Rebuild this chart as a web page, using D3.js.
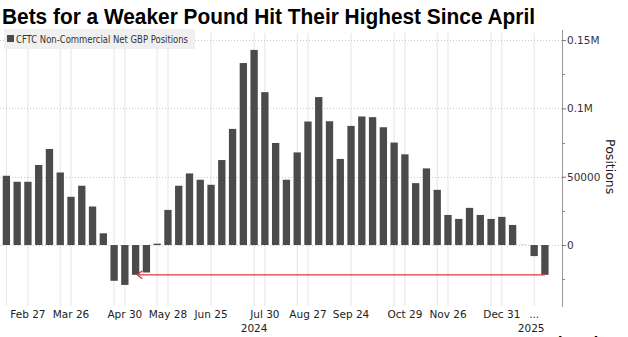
<!DOCTYPE html>
<html><head><meta charset="utf-8">
<script src="https://cdn.jsdelivr.net/npm/d3@7/dist/d3.min.js"></script>
<style>
html,body{margin:0;padding:0;background:#fff;}
svg{display:block;}
text{font-family:"DejaVu Sans",sans-serif;}
</style></head>
<body>
<script>
// ---- data ----
const title = "Bets for a Weaker Pound Hit Their Highest Since April";
const seriesName = "CFTC Non-Commercial Net GBP Positions";
const weeks = d3.range(51).map(i => d3.timeWeek.offset(new Date(2024, 1, 13), i));
const positions = [50700, 46300, 46300, 58600, 70300, 53100, 35300, 43400, 28200, 8600,
  -26200, -29200, -21800, -20100, 1000, 25700, 43400, 52400, 47800, 44100,
  62200, 85000, 133200, 142800, 111900, 74700, 47800, 67800, 90400, 108300,
  90600, 63000, 87200, 94100, 93600, 86200, 75000, 66400, 45300, 56100,
  40400, 22000, 19100, 27200, 22000, 19100, 20600, 14700, 500, -8100, -21800];
const tickIdx = [2, 6, 11, 15, 19, 24, 28, 32, 37, 41, 46, 49];
const tickLabels = ["Feb 27", "Mar 26", "Apr 30", "May 28", "Jun 25", "Jul 30", "Aug 27", "Sep 24", "Oct 29", "Nov 26", "Dec 31", "..."];
const extraGridIdx = [0, 5, 10, 14, 23, 27, 36, 40, 45];
const yearIdx = [23, 49];
const yearLabels = ["2024", "2025"];
const yTicks = [0, 50000, 100000, 150000];
const yTickLabels = ["0", "50000", "0.1M", "0.15M"];
const yMinorTicks = [-25000, 25000, 75000, 125000];
const yDomain = [-43900, 155200];
const axisTitle = "Positions";
const arrowFrom = 50, arrowTo = 12;

// ---- chart ----
const W = 628, H = 337;
const svg = d3.select("body").append("svg").attr("width", W).attr("height", H);

const x = d3.scaleBand().domain(d3.range(positions.length)).range([1, 550.3]).paddingInner(0.32).paddingOuter(0.16);
const y = d3.scaleLinear().domain(yDomain).range([305, 33]);
const axisX = 562;

// vertical gridlines
const vgrid = tickIdx.concat(extraGridIdx);
svg.append("g").selectAll("line").data(vgrid).join("line")
  .attr("x1", d => x(d) + x.bandwidth() / 2).attr("x2", d => x(d) + x.bandwidth() / 2)
  .attr("y1", y.range()[1]).attr("y2", y.range()[0] + 1)
  .attr("stroke", "#e4e4e4").attr("stroke-width", 1);

// horizontal gridlines
svg.append("g").selectAll("line").data(yTicks).join("line")
  .attr("x1", 0).attr("x2", axisX)
  .attr("y1", d => Math.round(y(d)) + 0.5).attr("y2", d => Math.round(y(d)) + 0.5)
  .attr("stroke", "#c8c8c8").attr("stroke-dasharray", "1,2");

// bars
svg.append("g").selectAll("rect").data(positions).join("rect")
  .attr("x", (d, i) => x(i)).attr("width", x.bandwidth())
  .attr("y", d => y(Math.max(0, d))).attr("height", d => Math.abs(y(d) - y(0)))
  .attr("fill", d => Math.abs(d) < 800 ? "#d8d8d8" : "#4b4b4b");

// right axis
const yAxis = d3.axisRight(y).tickValues(yTicks).tickSize(4)
  .tickFormat((d, i) => yTickLabels[i]);
const ga = svg.append("g").attr("transform", `translate(${axisX},0)`).call(yAxis);
ga.select(".domain").attr("d", `M0.5,${y.range()[1] - 3}V${y.range()[0] + 2}`).attr("stroke", "#999");
ga.selectAll(".tick line").attr("stroke", "#777").attr("x1", 0).attr("x2", 4);
ga.selectAll(".tick text").attr("x", 5).attr("fill", "#333").style("font-size", "10.5px").style("font-family", "DejaVu Sans");
svg.append("g").selectAll("line").data(yMinorTicks).join("line")
  .attr("x1", axisX).attr("x2", axisX + 3)
  .attr("y1", d => Math.round(y(d)) + 0.5).attr("y2", d => Math.round(y(d)) + 0.5)
  .attr("stroke", "#888");

svg.append("text").attr("transform", `translate(606,${y(50000) - 10}) rotate(90)`)
  .attr("text-anchor", "middle").attr("fill", "#222").style("font-size", "12.5px").text(axisTitle);

// x labels
svg.append("g").selectAll("text").data(tickIdx).join("text")
  .attr("x", d => x(d) + x.bandwidth() / 2).attr("y", 318)
  .attr("text-anchor", "middle").attr("fill", "#222").style("font-size", "10.5px")
  .text((d, i) => tickLabels[i]);
svg.append("g").selectAll("text").data(yearIdx).join("text")
  .attr("x", (d, i) => x(d) + x.bandwidth() / 2 - (i ? 3 : 0)).attr("y", 332)
  .attr("text-anchor", "middle").attr("fill", "#222").style("font-size", "10.5px")
  .text((d, i) => yearLabels[i]);

// arrow
const ay = y(positions[arrowFrom]);
const ax0 = x(arrowFrom) + x.bandwidth() / 2;
const ax1 = x(arrowTo) + x.bandwidth() - 2;
svg.append("line").attr("x1", ax0).attr("x2", ax1).attr("y1", ay).attr("y2", ay)
  .attr("stroke", "#e0393b").attr("stroke-width", 1.3);
svg.append("path").attr("d", `M${ax1 + 5},${ay - 4}L${ax1},${ay}L${ax1 + 5},${ay + 4}`)
  .attr("fill", "none").attr("stroke", "#e0393b").attr("stroke-width", 1.3);

// legend
svg.append("rect").attr("x", 4).attr("y", 29).attr("width", 191).attr("height", 20).attr("fill", "#f0f0f0");
svg.append("rect").attr("x", 7).attr("y", 35).attr("width", 7).attr("height", 7).attr("fill", "#4b4b4b");
svg.append("text").attr("x", 16).attr("y", 42.5).attr("fill", "#333").style("font-size", "10px")
  .attr("textLength", 172).attr("lengthAdjust", "spacingAndGlyphs").text(seriesName);

// title
svg.append("text").attr("x", 2).attr("y", 24).attr("fill", "#000")
  .style("font-family", "'Liberation Sans', Arial, sans-serif").style("font-weight", "bold").style("font-size", "22px")
  .attr("textLength", 533).attr("lengthAdjust", "spacingAndGlyphs").text(title);

// footer
svg.append("text").attr("x", 548).attr("y", 346).attr("fill", "#000").style("font-weight", "bold").style("font-size", "13px").text("Bloomberg");
</script>
</body></html>
